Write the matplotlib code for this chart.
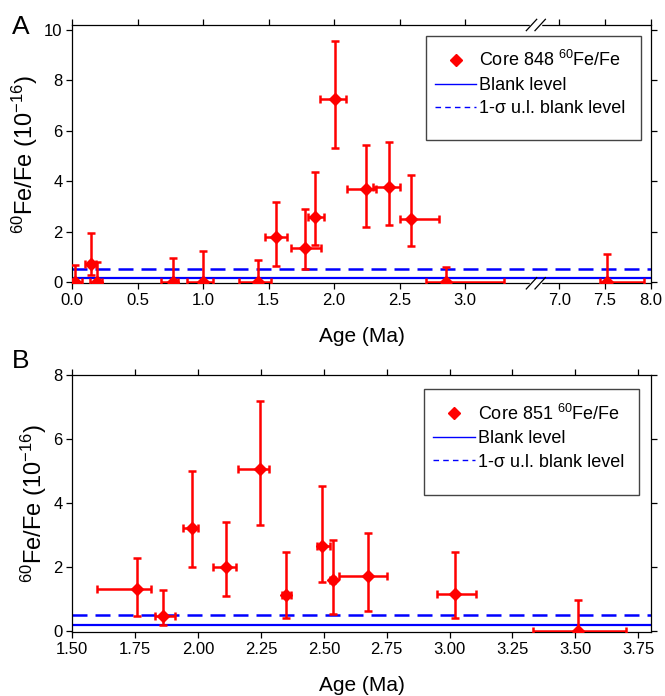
import numpy as np
import matplotlib
matplotlib.use('Agg')
import matplotlib.pyplot as plt
from matplotlib.patches import Rectangle
from matplotlib.lines import Line2D

plt.rcParams['font.family'] = ['Liberation Sans', 'DejaVu Sans']
plt.rcParams['mathtext.fontset'] = 'custom'
plt.rcParams['mathtext.rm'] = 'Liberation Sans'
plt.rcParams['mathtext.it'] = 'Liberation Sans'

# core 848 (panel A)
age_a = [0.02, 0.14, 0.186, 0.766, 0.995, 1.42, 1.553, 1.779, 1.855, 2.01,
         2.242, 2.42, 2.59, 2.853, 7.52]
age_a_lo = [-0.005, 0.10, 0.135, 0.68, 0.873, 1.275, 1.47, 1.67, 1.80, 1.89,
            2.10, 2.30, 2.50, 2.70, 7.44]
age_a_hi = [0.072, 0.18, 0.224, 0.81, 1.076, 1.515, 1.637, 1.90, 1.92, 2.087,
            2.318, 2.50, 2.80, 3.30, 7.93]
fe_a = [0, 0.71, 0, 0, 0, 0, 1.8, 1.37, 2.58, 7.27, 3.68, 3.78, 2.49, 0, 0]
fe_a_lo = [0, 0.28, 0, 0, 0, 0, 0.64, 0.51, 1.46, 5.32, 2.20, 2.26, 1.43, 0, 0]
fe_a_hi = [0.7, 1.96, 0.82, 0.96, 1.24, 0.87, 3.19, 2.91, 4.37, 9.57, 5.43,
           5.58, 4.24, 0.59, 1.13]

# core 851 (panel B)
age_b = [1.759, 1.86, 1.975, 2.11, 2.245, 2.351, 2.494, 2.535, 2.674, 3.023, 3.51]
age_b_lo = [1.60, 1.828, 1.942, 2.059, 2.158, 2.334, 2.473, 2.525, 2.559, 2.951, 3.331]
age_b_hi = [1.812, 1.91, 2.0, 2.152, 2.282, 2.37, 2.523, 2.545, 2.75, 3.103, 3.703]
fe_b = [1.30, 0.47, 3.22, 1.99, 5.06, 1.14, 2.65, 1.61, 1.71, 1.15, 0.0]
fe_b_lo = [0.47, 0.18, 2.01, 1.11, 3.30, 0.42, 1.53, 0.54, 0.62, 0.42, 0.0]
fe_b_hi = [2.29, 1.27, 5.0, 3.41, 7.18, 2.48, 4.54, 2.84, 3.06, 2.48, 0.98]

blank = 0.18
blank_ul = 0.51

ticks_a = [0.0, 0.5, 1.0, 1.5, 2.0, 2.5, 3.0, 7.0, 7.5, 8.0]
ticks_b = [1.50, 1.75, 2.00, 2.25, 2.50, 2.75, 3.00, 3.25, 3.50, 3.75]

# broken axis for panel A
b1, b2, r, eps = 3.54, 6.75, 0.70, 1e-3


def fwd(x):
    x = np.asarray(x, dtype=float)
    gap = b1 + (b2 - b1) * eps
    return np.where(x <= b1, x,
                    np.where(x >= b2, gap + (x - b2) * r, b1 + (x - b1) * eps))


def inv(y):
    y = np.asarray(y, dtype=float)
    gap = b1 + (b2 - b1) * eps
    return np.where(y <= b1, y,
                    np.where(y >= gap, b2 + (y - gap) / r, b1 + (y - b1) / eps))


def asym(v, lo, hi):
    v = np.asarray(v); return [v - np.asarray(lo), np.asarray(hi) - v]


def style(ax):
    ax.tick_params(direction='out', length=4, width=0.9, labelsize=12,
                   top=True, right=True, pad=3)
    for s in ax.spines.values():
        s.set_linewidth(0.9)


def draw(ax, x, xlo, xhi, y, ylo, yhi, core, box):
    ax.errorbar(x, y, xerr=asym(x, xlo, xhi), yerr=asym(y, ylo, yhi),
                fmt='D', color='#ff0000', ms=6.5, elinewidth=1.8, capsize=3,
                capthick=1.8, zorder=3)
    ax.axhline(blank, color='#0000ff', lw=1.6, zorder=2)
    ax.axhline(blank_ul, color='#0000ff', lw=1.8, ls=(0, (6, 3.2)), zorder=2)
    x0, y0, x1, y1 = box
    ax.add_patch(Rectangle((x0, y0), x1 - x0, y1 - y0, transform=ax.transAxes,
                           fill=False, edgecolor='#444444', lw=1.0, zorder=5))
    handles = [Line2D([], [], ls='none', marker='D', color='#ff0000', ms=6.5),
               Line2D([], [], color='#0000ff', lw=1.0),
               Line2D([], [], color='#0000ff', lw=1.0, ls=(0, (4, 3)))]
    labels = ['Core %s $^{60}$Fe/Fe' % core, 'Blank level', '1-\u03c3 u.l. blank level']
    ax.legend(handles, labels, loc='upper left', bbox_to_anchor=(x0, y1 - 0.02),
              frameon=False, fontsize=13, handlelength=2.3, handletextpad=0.15,
              labelspacing=0.36, borderaxespad=0.2, borderpad=0.3)
    ax.set_xlabel('Age (Ma)', fontsize=15, labelpad=14)
    ax.set_ylabel('$^{60}$Fe/Fe (10$^{-16}$)', fontsize=17, labelpad=3)


fig = plt.figure(figsize=(6.65, 6.96), dpi=100)
ax_a = fig.add_axes([0.1087, 0.593, 0.87, 0.3711])
ax_b = fig.add_axes([0.1087, 0.0915, 0.87, 0.3697])

# panel A
ax_a.set_xscale('function', functions=(fwd, inv))
draw(ax_a, age_a, age_a_lo, age_a_hi, fe_a, fe_a_lo, fe_a_hi, '848',
     (0.611, 0.555, 0.983, 0.957))
ax_a.set_xlim(0, 8.0)
ax_a.set_ylim(-0.04, 10.2)
ax_a.set_xticks(ticks_a)
ax_a.set_xticklabels(['%.1f' % t for t in ticks_a])
ax_a.set_yticks([0, 2, 4, 6, 8, 10])
ax_a.minorticks_off()
style(ax_a)

# break marks
fx = ax_a.transAxes.inverted().transform(ax_a.transData.transform((b1, 0)))[0]
dx, dy, sep = 0.009, 0.022, 0.0075
for yy in (0, 1):
    ax_a.plot([fx - sep, fx + sep], [yy, yy], color='white', lw=2.5,
              transform=ax_a.transAxes, clip_on=False, zorder=6)
    for off in (-sep, sep):
        ax_a.plot([fx + off - dx, fx + off + dx], [yy - dy, yy + dy], color='black',
                  lw=0.9, transform=ax_a.transAxes, clip_on=False, zorder=7)

# panel B
draw(ax_b, age_b, age_b_lo, age_b_hi, fe_b, fe_b_lo, fe_b_hi, '851',
     (0.6086, 0.534, 0.98, 0.944))
ax_b.set_xlim(1.5, 3.8)
ax_b.set_ylim(-0.04, 8)
ax_b.set_xticks(ticks_b)
ax_b.set_xticklabels(['%.2f' % t for t in ticks_b])
ax_b.set_yticks([0, 2, 4, 6, 8])
style(ax_b)

fig.text(0.018, 0.9605, 'A', fontsize=19, va='center', ha='left')
fig.text(0.018, 0.481, 'B', fontsize=19, va='center', ha='left')

fig.savefig('out.png', dpi=100)
